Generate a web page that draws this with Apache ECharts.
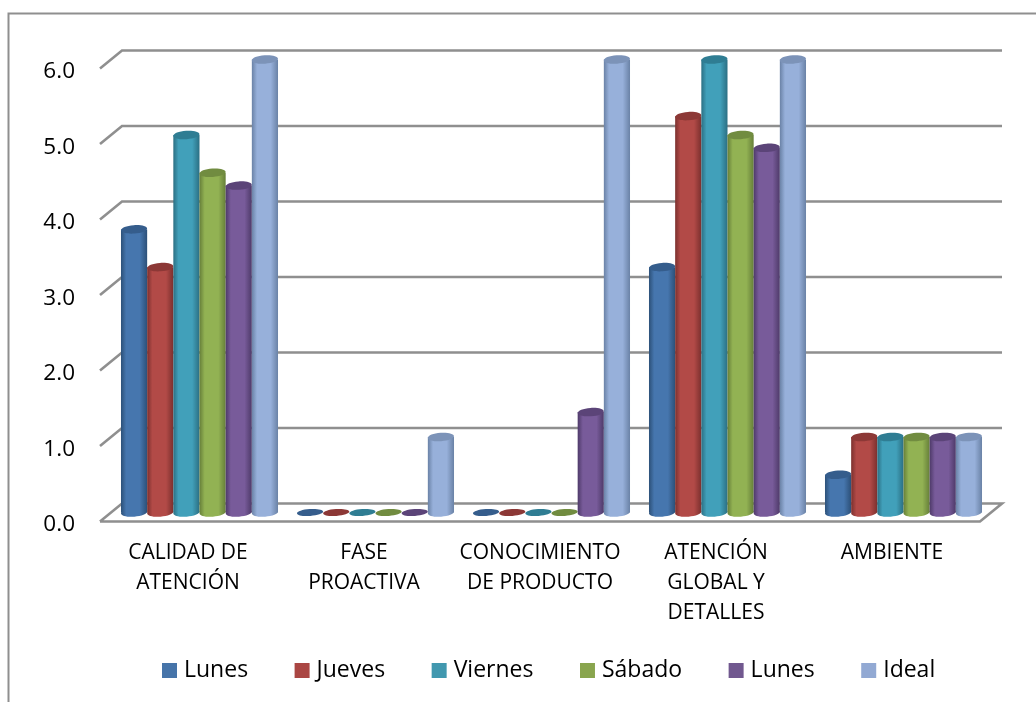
<!DOCTYPE html>
<html>
<head>
<meta charset="utf-8">
<style>html,body{margin:0;padding:0;background:#fff}#chart{width:1036px;height:702px}</style>
<script src="https://cdn.jsdelivr.net/npm/echarts@6/dist/echarts.min.js"></script>
</head>
<body>
<div id="chart"></div>
<script>
const categories = ['CALIDAD DE\nATENCIÓN', 'FASE\nPROACTIVA', 'CONOCIMIENTO\nDE PRODUCTO', 'ATENCIÓN\nGLOBAL Y\nDETALLES', 'AMBIENTE'];
const yTicks = [0, 1, 2, 3, 4, 5, 6];

// The second Monday carries a trailing space so the legend keeps both entries.
const seriesNames = ['Lunes', 'Jueves', 'Viernes', 'Sábado', 'Lunes ', 'Ideal'];
const lunes1  = [3.75, 0, 0, 3.25, 0.5];
const jueves  = [3.25, 0, 0, 5.25, 1];
const viernes = [5, 0, 0, 6, 1];
const sabado  = [4.5, 0, 0, 5, 1];
const lunes2  = [4.33, 0, 1.33, 4.83, 1];
const ideal   = [6, 1, 6, 6, 1];
const seriesValues = [lunes1, jueves, viernes, sabado, lunes2, ideal];

// base: legend swatch, mid: lit side, edge: shaded side, top: cap of the cylinder
const palette = [
  { base: '#4674a9', mid: '#4676ae', edge: '#2c5078', top: '#355d8c' },
  { base: '#aa4643', mid: '#b24a47', edge: '#7b302e', top: '#8c3836' },
  { base: '#4198af', mid: '#41a0ba', edge: '#2b6f83', top: '#2f7d93' },
  { base: '#89a54e', mid: '#92b253', edge: '#667f39', top: '#718c40' },
  { base: '#71588f', mid: '#785b9a', edge: '#4e3a69', top: '#5b4478' },
  { base: '#92a9d3', mid: '#97b0da', edge: '#6a82a6', top: '#7c93b8' }
];

// Oblique projection of the chart floor: back wall relative to the front plane.
const DEPTH_X = 22;
const DEPTH_Y = -18;
const BAR_SHARE = 0.1487;
const WALL = '#8f8f8f';

const font = '"Open Sans", Lato, sans-serif';
const chart = echarts.init(document.getElementById('chart'), null, { renderer: 'canvas' });

function wallItem(params, api) {
  const v = api.value(0);
  const y = api.coord([0, v])[1];
  const left = params.coordSys.x;
  const right = left + params.coordSys.width;
  const points = [[left, y], [left + DEPTH_X, y + DEPTH_Y], [right + DEPTH_X, y + DEPTH_Y]];
  if (v === 0) {
    points.push([right, y], [left, y]);
  }
  return {
    type: 'polyline',
    shape: { points },
    style: { stroke: WALL, lineWidth: 2.6, fill: null, lineJoin: 'miter' }
  };
}

function cylinderItem(seriesIndex) {
  const c = palette[seriesIndex];
  return function (params, api) {
    const cat = api.value(0);
    const val = api.value(1);
    const band = api.size([1, 0])[0];
    const w = band * BAR_SHARE;
    const rx = w / 2;
    const ry = val > 0 ? 4.2 : 3.4;
    const cx = api.coord([cat, 0])[0] + DEPTH_X / 2 + 0.5 + (seriesIndex - 2.5) * w;
    const yBase = api.coord([cat, 0])[1] + DEPTH_Y / 2;
    const yTop = api.coord([cat, val])[1] + DEPTH_Y / 2;
    const body = new echarts.graphic.LinearGradient(0, 0, 1, 0, [
      { offset: 0, color: c.edge },
      { offset: 0.2, color: c.mid },
      { offset: 0.72, color: c.mid },
      { offset: 1, color: c.edge }
    ]);
    const tilt = { rotation: 0.07 };
    const children = [];
    if (val > 0) {
      children.push(
        { type: 'ellipse', x: cx, y: yBase, ...tilt, shape: { cx: 0, cy: 0, rx, ry }, style: { fill: body } },
        { type: 'rect', shape: { x: cx - rx, y: yTop, width: w, height: yBase - yTop }, style: { fill: body } }
      );
    }
    children.push({ type: 'ellipse', x: cx, y: yTop, ...tilt, shape: { cx: 0, cy: 0, rx, ry }, style: { fill: c.top } });
    return { type: 'group', children };
  };
}

const cylinderSeries = seriesNames.map((name, i) => ({
  name,
  type: 'custom',
  coordinateSystem: 'cartesian2d',
  clip: false,
  silent: true,
  z: 3,
  encode: { x: 0, y: 1 },
  itemStyle: { color: palette[i].base },
  renderItem: cylinderItem(i),
  data: seriesValues[i].map((v, c) => [c, v])
}));

chart.setOption({
  animation: false,
  backgroundColor: '#ffffff',
  textStyle: { fontFamily: font },
  graphic: [{
    type: 'polyline',
    silent: true,
    shape: { points: [[8.5, 702], [8.5, 13.5], [1036, 13.5]] },
    style: { stroke: '#8f8f8f', lineWidth: 2, fill: null }
  }],
  grid: { left: 100, top: 68.5, width: 880, height: 453 },
  legend: {
    data: seriesNames,
    left: 162,
    top: 659,
    padding: 0,
    icon: 'rect',
    itemWidth: 15,
    itemHeight: 15,
    itemGap: 46.5,
    formatter: n => n.trim(),
    textStyle: { fontFamily: font, fontSize: 23, color: '#000', padding: [2, 0, 0, 2] },
    selectedMode: false
  },
  xAxis: {
    type: 'category',
    data: categories,
    axisLine: { show: false },
    axisTick: { show: false },
    axisLabel: { interval: 0, margin: 17, fontFamily: font, fontSize: 21, lineHeight: 30, color: '#000' }
  },
  yAxis: {
    type: 'value',
    min: yTicks[0],
    max: yTicks[yTicks.length - 1],
    interval: 1,
    axisLine: { show: false },
    axisTick: { show: false },
    splitLine: { show: false },
    axisLabel: {
      margin: 25,
      color: '#000',
      formatter: v => '{tick|' + v.toFixed(1) + '}',
      rich: { tick: { fontFamily: font, fontSize: 22.5, color: '#000', padding: [7, 0, 0, 0] } }
    }
  },
  series: [
    {
      type: 'custom',
      name: 'paredes',
      coordinateSystem: 'cartesian2d',
      clip: false,
      silent: true,
      z: 1,
      encode: { y: 0 },
      renderItem: wallItem,
      data: yTicks.map(v => [v])
    },
    ...cylinderSeries
  ]
});
</script>
</body>
</html>
